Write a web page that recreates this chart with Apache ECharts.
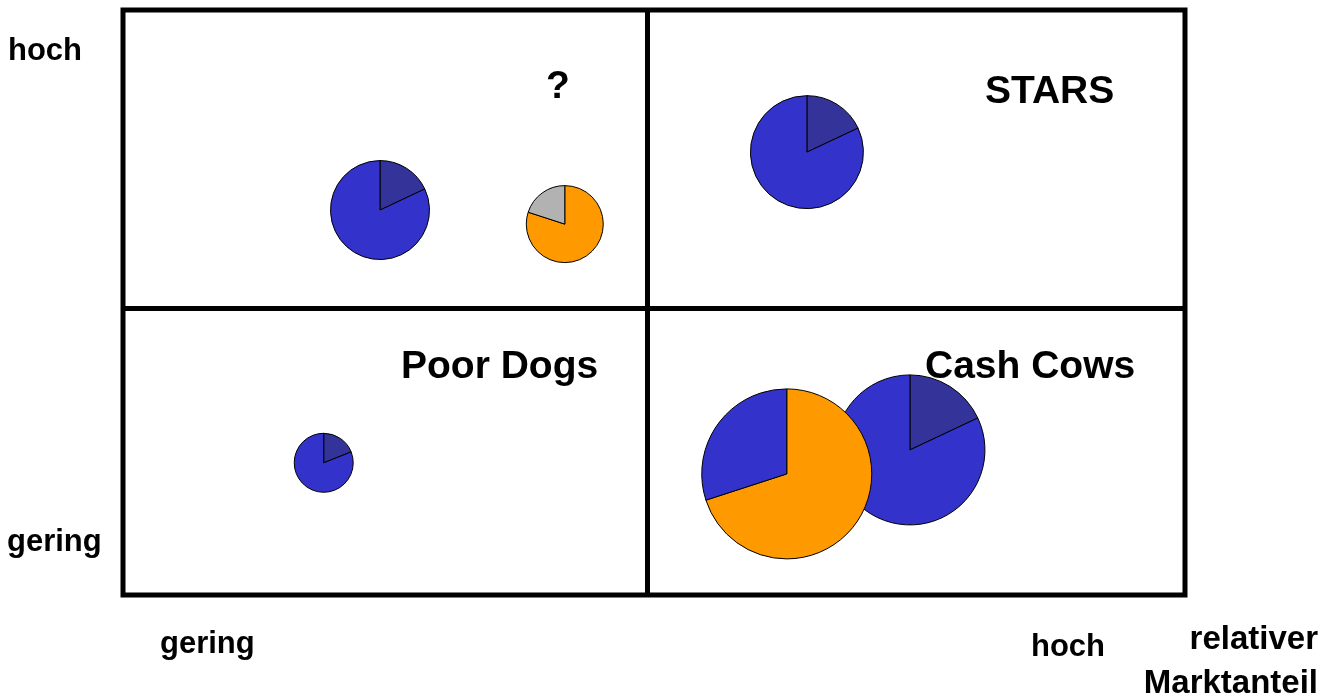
<!DOCTYPE html>
<html>
<head>
<meta charset="utf-8">
<script src="https://cdn.jsdelivr.net/npm/echarts@6/dist/echarts.min.js"></script>
<style>
html, body { margin: 0; padding: 0; background: #fff; }
#main { width: 1338px; height: 697px; }
</style>
</head>
<body>
<div id="main"></div>
<script>
// Portfolio-Matrix: Werte (Achsen 0..100)
var produkte = ['P1', 'P2', 'P3', 'P4', 'P5', 'P6'];
var marktanteil = [24.2, 41.6, 64.4, 18.9, 74.1, 62.5];
var wachstum = [65.8, 63.4, 75.7, 22.6, 24.8, 20.7];
var umsatz = [49.5, 38.5, 56.5, 29.5, 75, 85];
// Segmente im Uhrzeigersinn ab 12 Uhr
var segment1 = [18, 80, 18, 19, 18, 70];
var segment2 = [82, 20, 82, 81, 82, 30];

var achseYLabels = ['hoch', 'gering'];
var achseXLabels = ['gering', 'hoch'];
var achseXTitel = ['relativer', 'Marktanteil'];
var felder = ['?', 'STARS', 'Poor Dogs', 'Cash Cows'];

// Trennlinien der Quadranten
var trennX = 49.4;
var trennY = 49.1;

var farbe1 = ['#333399', '#FF9900', '#333399', '#333399', '#333399', '#FF9900'];
var farbe2 = ['#3333CC', '#B2B2B2', '#3333CC', '#3333CC', '#3333CC', '#3333CC'];
var radiusFaktor = 1;

var chart = echarts.init(document.getElementById('main'));
var font = '"Liberation Sans", Arial, sans-serif';

function text(str, x, y, size, align) {
    return {
        type: 'text', x: x, y: y, z: 100,
        style: {
            text: str, fill: '#000', fontWeight: 'bold', fontSize: size, fontFamily: font,
            align: align || 'left', verticalAlign: 'middle'
        }
    };
}

chart.setOption({
    animation: false,
    grid: {
        left: 123, right: 153, top: 10, bottom: 102,
        show: true, borderColor: '#000', borderWidth: 5, backgroundColor: 'transparent'
    },
    xAxis: { type: 'value', min: 0, max: 100, show: false },
    yAxis: { type: 'value', min: 0, max: 100, show: false },
    series: [{
        type: 'scatter', data: [], silent: true,
        markLine: {
            silent: true, symbol: 'none', label: { show: false },
            lineStyle: { color: '#000', width: 5, type: 'solid' },
            data: [{ xAxis: trennX }, { yAxis: trennY }]
        }
    }],
    graphic: [
        text(achseYLabels[0], 8, 51, 31),
        text(achseYLabels[1], 7, 542, 31),
        text(achseXLabels[0], 160, 644, 31),
        text(achseXLabels[1], 1031, 647, 31),
        text(achseXTitel[0], 1318, 640, 33, 'right'),
        text(achseXTitel[1], 1318, 684, 33, 'right'),
        text(felder[0], 558, 87, 39, 'center'),
        text(felder[1], 985, 92, 39),
        text(felder[2], 401, 367, 39),
        text(felder[3], 925, 367, 39)
    ]
});

var pies = [];
for (var i = 0; i < produkte.length; i++) {
    var c = chart.convertToPixel({ gridIndex: 0 }, [marktanteil[i], wachstum[i]]);
    pies.push({
        type: 'pie',
        name: produkte[i],
        center: c,
        radius: umsatz[i] * radiusFaktor,
        startAngle: 90,
        clockwise: true,
        silent: true,
        label: { show: false },
        labelLine: { show: false },
        itemStyle: { borderColor: '#000', borderWidth: 1 },
        data: [
            { value: segment1[i], itemStyle: { color: farbe1[i] } },
            { value: segment2[i], itemStyle: { color: farbe2[i] } }
        ]
    });
}

var series = chart.getOption().series.slice(0, 1).concat(pies);
chart.setOption({ series: series });
</script>
</body>
</html>
